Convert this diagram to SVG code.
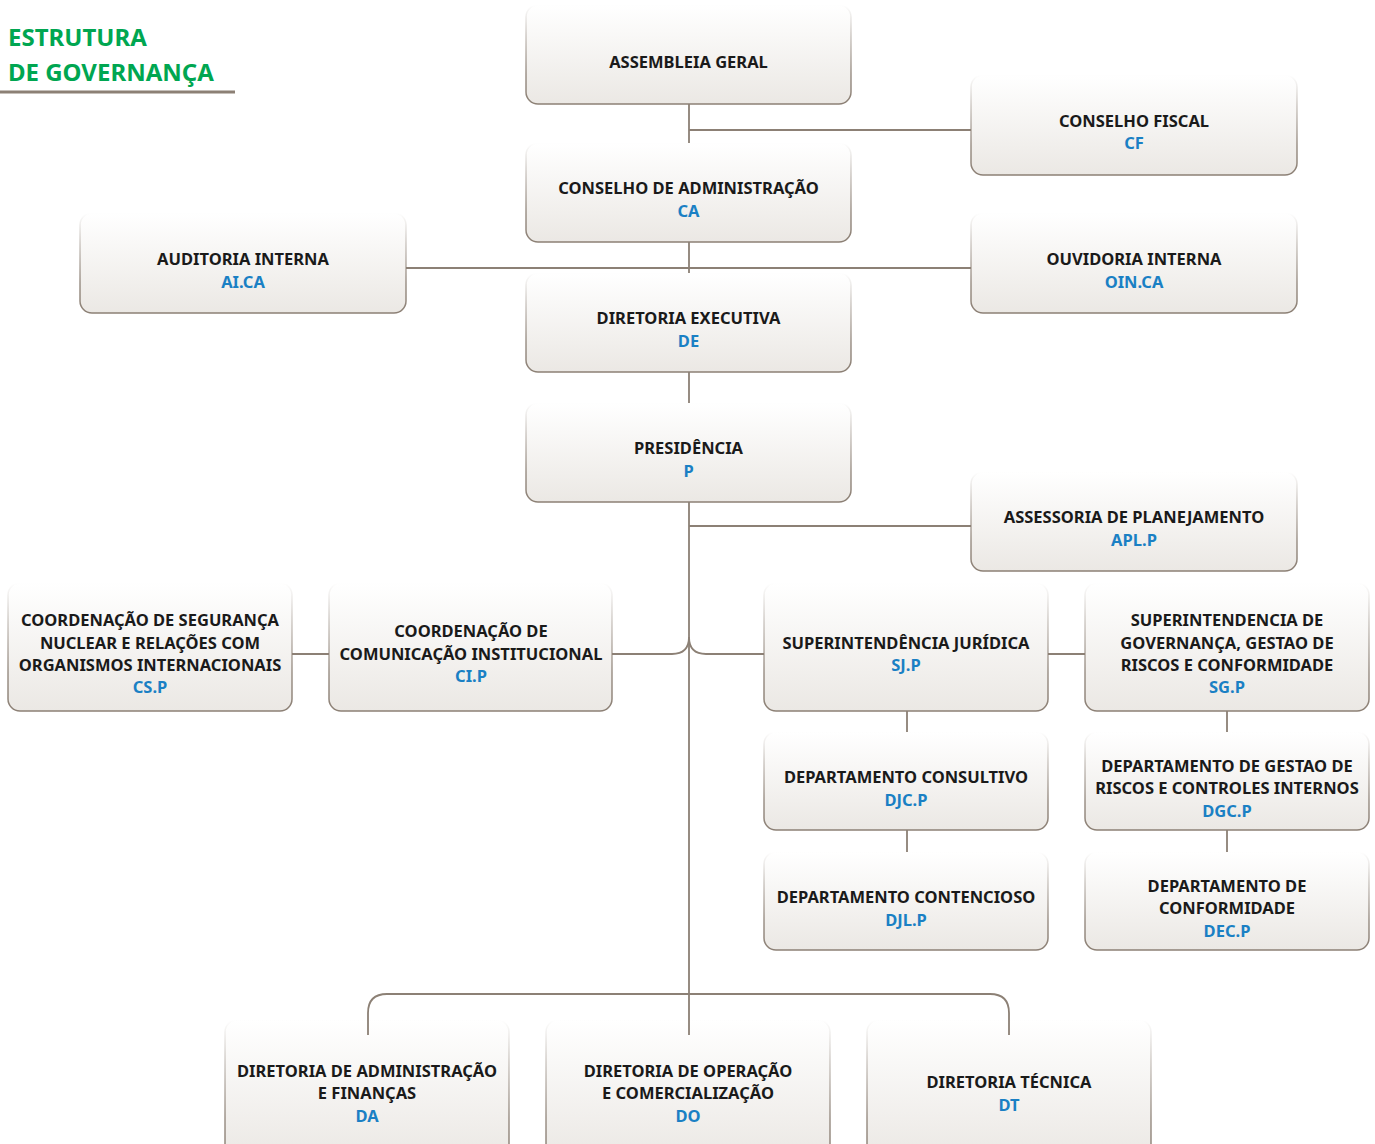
<svg xmlns="http://www.w3.org/2000/svg" width="1375" height="1144" viewBox="0 0 1375 1144">
<defs>
<linearGradient id="fillG" x1="0" y1="0" x2="0" y2="1">
<stop offset="0" stop-color="#ffffff"/>
<stop offset="1" stop-color="#ebe8e4"/>
</linearGradient>
<linearGradient id="strokeG" x1="0" y1="0" x2="0" y2="1">
<stop offset="0" stop-color="#8c8075" stop-opacity="0"/>
<stop offset="0.3" stop-color="#8c8075" stop-opacity="0.4"/>
<stop offset="0.7" stop-color="#8c8075" stop-opacity="0.85"/>
<stop offset="1" stop-color="#8c8075" stop-opacity="1"/>
</linearGradient>
</defs>
<style>
.box{fill:url(#fillG);stroke:url(#strokeG);stroke-width:1.5}
.t{font-family:"Noto Sans","Open Sans","DejaVu Sans",sans-serif;font-weight:bold;font-size:16.5px;fill:#1a1a1a;text-anchor:middle}
.c{fill:#1a80c4}
.ln{fill:none;stroke:#8c8075;stroke-width:1.8}
.title{font-family:"Noto Sans","Open Sans",sans-serif;font-weight:bold;font-size:24px;fill:#00a651}
</style>
<rect width="1375" height="1144" fill="#ffffff"/>
<g id="title">
<text class="title" x="8" y="46">ESTRUTURA</text>
<text class="title" x="8" y="81">DE GOVERNANÇA</text>
<line x1="0" y1="92" x2="235" y2="92" stroke="#8c8075" stroke-width="3"/>
</g>
<g id="n-ag"><rect class="box" x="526" y="5" width="325" height="99" rx="12"/><text class="t" x="688.5" y="68">ASSEMBLEIA GERAL</text></g>
<g id="n-cf"><rect class="box" x="971" y="75" width="326" height="100" rx="12"/><text class="t" x="1134" y="127">CONSELHO FISCAL</text><text class="t c" x="1134" y="149">CF</text></g>
<g id="n-ca"><rect class="box" x="526" y="143" width="325" height="99" rx="12"/><text class="t" x="688.5" y="194">CONSELHO DE ADMINISTRAÇÃO</text><text class="t c" x="688.5" y="217">CA</text></g>
<g id="n-ai"><rect class="box" x="80" y="213" width="326" height="100" rx="12"/><text class="t" x="243" y="265">AUDITORIA INTERNA</text><text class="t c" x="243" y="288">AI.CA</text></g>
<g id="n-oin"><rect class="box" x="971" y="213" width="326" height="100" rx="12"/><text class="t" x="1134" y="265">OUVIDORIA INTERNA</text><text class="t c" x="1134" y="288">OIN.CA</text></g>
<g id="n-de"><rect class="box" x="526" y="273" width="325" height="99" rx="12"/><text class="t" x="688.5" y="324">DIRETORIA EXECUTIVA</text><text class="t c" x="688.5" y="347">DE</text></g>
<g id="n-p"><rect class="box" x="526" y="403" width="325" height="99" rx="12"/><text class="t" x="688.5" y="454">PRESIDÊNCIA</text><text class="t c" x="688.5" y="477">P</text></g>
<g id="n-apl"><rect class="box" x="971" y="472" width="326" height="99" rx="12"/><text class="t" x="1134" y="523">ASSESSORIA DE PLANEJAMENTO</text><text class="t c" x="1134" y="546">APL.P</text></g>
<g id="n-cs"><rect class="box" x="8" y="583" width="284" height="128" rx="12"/><text class="t" x="150" y="626">COORDENAÇÃO DE SEGURANÇA</text><text class="t" x="150" y="649">NUCLEAR E RELAÇÕES COM</text><text class="t" x="150" y="671">ORGANISMOS INTERNACIONAIS</text><text class="t c" x="150" y="693">CS.P</text></g>
<g id="n-ci"><rect class="box" x="329" y="583" width="283" height="128" rx="12"/><text class="t" x="471" y="637">COORDENAÇÃO DE</text><text class="t" x="471" y="660">COMUNICAÇÃO INSTITUCIONAL</text><text class="t c" x="471" y="682">CI.P</text></g>
<g id="n-sj"><rect class="box" x="764" y="583" width="284" height="128" rx="12"/><text class="t" x="906" y="649">SUPERINTENDÊNCIA JURÍDICA</text><text class="t c" x="906" y="671">SJ.P</text></g>
<g id="n-sg"><rect class="box" x="1085" y="583" width="284" height="128" rx="12"/><text class="t" x="1227" y="626">SUPERINTENDENCIA DE</text><text class="t" x="1227" y="649">GOVERNANÇA, GESTAO DE</text><text class="t" x="1227" y="671">RISCOS E CONFORMIDADE</text><text class="t c" x="1227" y="693">SG.P</text></g>
<g id="n-djc"><rect class="box" x="764" y="732" width="284" height="98" rx="12"/><text class="t" x="906" y="783">DEPARTAMENTO CONSULTIVO</text><text class="t c" x="906" y="806">DJC.P</text></g>
<g id="n-dgc"><rect class="box" x="1085" y="732" width="284" height="98" rx="12"/><text class="t" x="1227" y="772">DEPARTAMENTO DE GESTAO DE</text><text class="t" x="1227" y="794">RISCOS E CONTROLES INTERNOS</text><text class="t c" x="1227" y="817">DGC.P</text></g>
<g id="n-djl"><rect class="box" x="764" y="852" width="284" height="98" rx="12"/><text class="t" x="906" y="903">DEPARTAMENTO CONTENCIOSO</text><text class="t c" x="906" y="926">DJL.P</text></g>
<g id="n-dec"><rect class="box" x="1085" y="852" width="284" height="98" rx="12"/><text class="t" x="1227" y="892">DEPARTAMENTO DE</text><text class="t" x="1227" y="914">CONFORMIDADE</text><text class="t c" x="1227" y="937">DEC.P</text></g>
<g id="n-da"><rect class="box" x="225" y="1020" width="284" height="140" rx="12"/><text class="t" x="367" y="1077">DIRETORIA DE ADMINISTRAÇÃO</text><text class="t" x="367" y="1099">E FINANÇAS</text><text class="t c" x="367" y="1122">DA</text></g>
<g id="n-do"><rect class="box" x="546" y="1020" width="284" height="140" rx="12"/><text class="t" x="688" y="1077">DIRETORIA DE OPERAÇÃO</text><text class="t" x="688" y="1099">E COMERCIALIZAÇÃO</text><text class="t c" x="688" y="1122">DO</text></g>
<g id="n-dt"><rect class="box" x="867" y="1020" width="284" height="140" rx="12"/><text class="t" x="1009" y="1088">DIRETORIA TÉCNICA</text><text class="t c" x="1009" y="1111">DT</text></g>
<g id="connectors">
<path class="ln" d="M689,104 V143 M689,130 H971"/>
<path class="ln" d="M689,242 V273 M406,268 H971"/>
<path class="ln" d="M689,372 V403"/>
<path class="ln" d="M689,502 V1035 M689,526 H971"/>
<path class="ln" d="M612,654 H672 Q689,654 689,637 M764,654 H706 Q689,654 689,637"/>
<path class="ln" d="M292,654 H329 M1048,654 H1085"/>
<path class="ln" d="M907,711 V732 M907,830 V852 M1227,711 V732 M1227,830 V852"/>
<path class="ln" d="M368,1035 V1013 Q368,994 387,994 H990 Q1009,994 1009,1013 V1035"/>
</g>
</svg>
